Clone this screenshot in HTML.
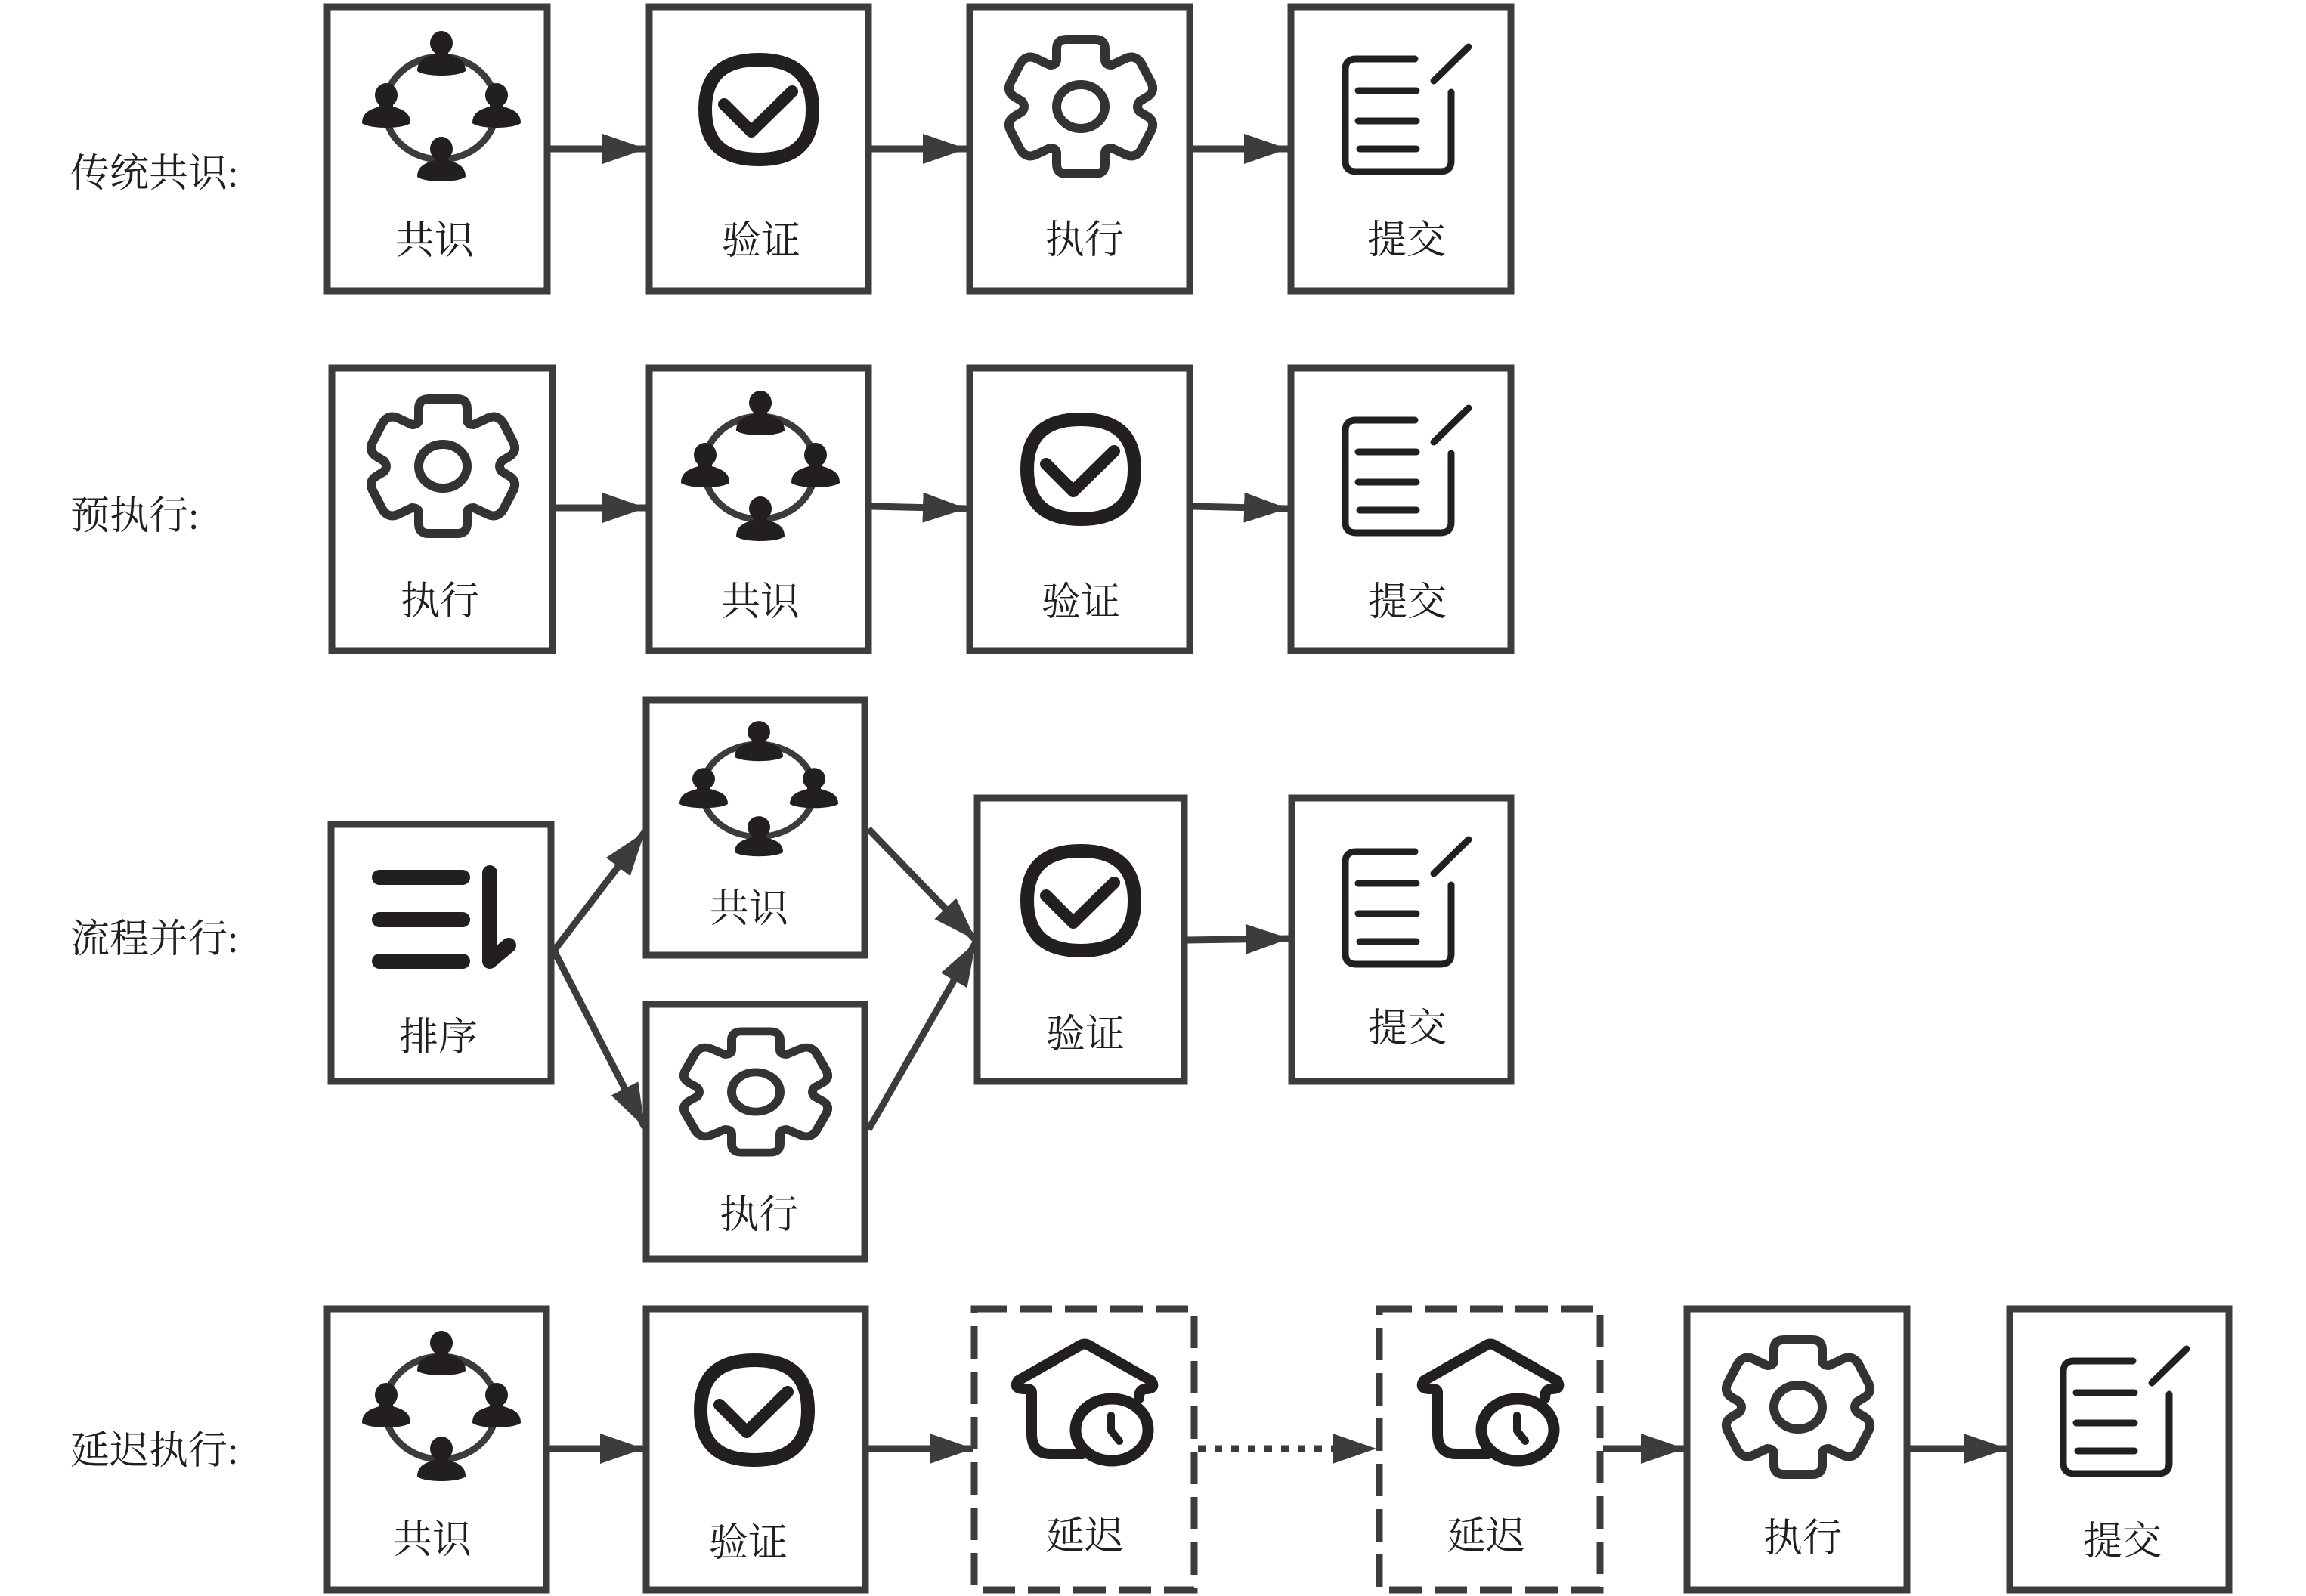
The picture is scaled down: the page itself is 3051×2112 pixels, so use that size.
<!DOCTYPE html>
<html lang="zh">
<head>
<meta charset="utf-8">
<title>共识流程</title>
<style>
html,body{margin:0;padding:0;background:#fff;}
svg{display:block;}
text{font-family:"Liberation Serif","Noto Serif CJK SC",serif;fill:#1f1f1f;}
.b{fill:#fff;stroke:#3c3c3c;stroke-width:9;}
.d{fill:#fff;stroke:#3c3c3c;stroke-width:9;stroke-dasharray:43 17;}
.a{stroke:#3c3c3c;stroke-width:9;fill:none;marker-end:url(#ah);}
.l{font-size:52px;text-anchor:middle;}
.t{font-size:52px;}
</style>
</head>
<body>
<svg xmlns="http://www.w3.org/2000/svg" width="3051" height="2112" viewBox="0 0 3051 2112">
<defs>
<marker id="ah" markerUnits="userSpaceOnUse" markerWidth="60" markerHeight="42" refX="58" refY="20" orient="auto">
  <polygon points="0,0 58,20 0,40" fill="#3c3c3c"/>
</marker>
<g id="person" fill="#231f20">
  <ellipse cx="0" cy="-15" rx="15" ry="16"/>
  <rect x="-9" y="-6" width="18" height="14"/>
  <path d="M-32,22 C-32,8 -22,4 -9,0 L9,0 C22,4 32,8 32,22 C22,30 -22,30 -32,22 Z"/>
</g>
<g id="people">
  <ellipse cx="-1" cy="1" rx="74" ry="68" fill="none" stroke="#3c3c3c" stroke-width="9"/>
  <use href="#person" x="0" y="-70"/>
  <use href="#person" x="0" y="70"/>
  <use href="#person" x="-73" y="-1"/>
  <use href="#person" x="73" y="-1"/>
</g>
<g id="check" fill="none" stroke="#231f20" stroke-linecap="round" stroke-linejoin="round">
  <path stroke-width="18" d="M-71,0 C-71,-46 -46,-66 0,-66 C46,-66 71,-46 71,0 C71,46 46,66 0,66 C-46,66 -71,46 -71,0 Z"/>
  <path stroke-width="16" d="M-46,-7 L-10,29 L44,-24"/>
</g>
<g id="gear" fill="none" stroke="#333" stroke-width="12" stroke-linejoin="round">
  <path d="M-32,-62 V-76 Q-32,-89 -19,-89 H19 Q32,-89 32,-76 V-62 Q32,-55 41,-55 L58,-63 Q72,-70 80,-57 L93,-32 Q99,-20 88,-13 L78,-7 Q72,0 78,7 L88,13 Q99,20 93,32 L80,57 Q72,70 58,63 L41,55 Q32,55 32,62 V76 Q32,89 19,89 H-19 Q-32,89 -32,76 V62 Q-32,55 -41,55 L-58,63 Q-72,70 -80,57 L-93,32 Q-99,20 -88,13 L-78,7 Q-72,0 -78,-7 L-88,-13 Q-99,-20 -93,-32 L-80,-57 Q-72,-70 -58,-63 L-41,-55 Q-32,-55 -32,-62 Z"/>
  <ellipse cx="0" cy="0" rx="32" ry="29"/>
</g>
<g id="doc" fill="none" stroke="#231f20" stroke-width="9" stroke-linecap="round" stroke-linejoin="round">
  <path d="M1872,78 H1794 Q1780,78 1780,92 V213 Q1780,227 1794,227 H1906 Q1920,227 1920,213 V122"/>
  <path d="M1797,120 H1874 M1797,160 H1874 M1799,197 H1874"/>
  <path d="M1897,107 L1943,62"/>
</g>
<g id="house" fill="none" stroke="#231f20" stroke-width="14" stroke-linecap="round" stroke-linejoin="round">
  <path d="M1432,1924 H1390 Q1365,1924 1365,1897 V1843 Q1365,1837 1355,1838 Q1340,1838 1347,1827 L1428,1781 Q1435,1776 1442,1781 L1523,1827 Q1530,1838 1516,1838 Q1507,1838 1507,1850"/>
  <ellipse cx="1471" cy="1892" rx="48" ry="41" stroke-width="15"/>
  <path stroke-width="10" d="M1470,1873 V1893 L1481,1907"/>
</g>
</defs>

<rect width="3051" height="2112" fill="#fff"/>

<!-- Row 1 -->
<rect class="b" x="433" y="9" width="291" height="376"/>
<rect class="b" x="859" y="9" width="290" height="376"/>
<rect class="b" x="1283" y="9" width="291" height="376"/>
<rect class="b" x="1708" y="9" width="291" height="376"/>
<line class="a" x1="728" y1="197" x2="855" y2="197"/>
<line class="a" x1="1153" y1="197" x2="1279" y2="197"/>
<line class="a" x1="1578" y1="197" x2="1704" y2="197"/>
<use href="#people" transform="translate(584,142)"/>
<use href="#check" transform="translate(1004,145)"/>
<use href="#gear" transform="translate(1430,141)"/>
<use href="#doc"/>
<text class="l" x="575" y="336">共识</text>
<text class="l" x="1007" y="336">验证</text>
<text class="l" x="1435" y="335">执行</text>
<text class="l" x="1861" y="335">提交</text>
<text class="t" x="93" y="247">传统共识:</text>

<!-- Row 2 -->
<rect class="b" x="439" y="487" width="292" height="374"/>
<rect class="b" x="859" y="487" width="290" height="374"/>
<rect class="b" x="1283" y="487" width="291" height="374"/>
<rect class="b" x="1708" y="487" width="291" height="374"/>
<line class="a" x1="735" y1="672" x2="855" y2="672"/>
<line class="a" x1="1153" y1="670" x2="1279" y2="673"/>
<line class="a" x1="1578" y1="670" x2="1704" y2="673"/>
<use href="#gear" transform="translate(586,617)"/>
<use href="#people" transform="translate(1006,618)"/>
<use href="#check" transform="translate(1430,621)"/>
<use href="#doc" transform="translate(0,478)"/>
<text class="l" x="582" y="813">执行</text>
<text class="l" x="1006" y="814">共识</text>
<text class="l" x="1430" y="814">验证</text>
<text class="l" x="1862" y="814">提交</text>
<text class="t" x="93" y="700">预执行:</text>

<!-- Row 3 -->
<rect class="b" x="438" y="1091" width="291" height="340"/>
<rect class="b" x="855" y="926" width="289" height="338"/>
<rect class="b" x="855" y="1329" width="289" height="337"/>
<rect class="b" x="1293" y="1056" width="274" height="375"/>
<rect class="b" x="1709" y="1056" width="290" height="375"/>
<line class="a" x1="733" y1="1258" x2="853" y2="1101"/>
<line class="a" x1="733" y1="1258" x2="853" y2="1492"/>
<line class="a" x1="1149" y1="1097" x2="1291" y2="1244"/>
<line class="a" x1="1149" y1="1495" x2="1291" y2="1247"/>
<line class="a" x1="1570" y1="1244" x2="1706" y2="1242"/>
<path d="M502,1161 H612 M502,1217 H612 M502,1272 H612" stroke="#231f20" stroke-width="20" stroke-linecap="round" fill="none"/>
<path d="M648,1155 V1272 L673,1251" stroke="#231f20" stroke-width="20" stroke-linecap="round" stroke-linejoin="round" fill="none"/>
<use href="#people" transform="translate(1004,1045) scale(1,0.9)"/>
<use href="#gear" transform="translate(1000,1445) scale(1,0.9)"/>
<use href="#check" transform="translate(1430,1192)"/>
<use href="#doc" transform="translate(0,1049)"/>
<text class="l" x="580" y="1390">排序</text>
<text class="l" x="991" y="1220">共识</text>
<text class="l" x="1004" y="1625">执行</text>
<text class="l" x="1436" y="1386">验证</text>
<text class="l" x="1862" y="1378">提交</text>
<text class="t" x="93" y="1260">流程并行:</text>

<!-- Row 4 -->
<rect class="b" x="433" y="1732" width="290" height="372"/>
<rect class="b" x="855" y="1732" width="290" height="372"/>
<rect class="d" x="1289" y="1732" width="291" height="372"/>
<rect class="d" x="1825" y="1732" width="292" height="372"/>
<rect class="b" x="2232" y="1732" width="291" height="372"/>
<rect class="b" x="2659" y="1732" width="290" height="372"/>
<line class="a" x1="726" y1="1917" x2="852" y2="1917"/>
<line class="a" x1="1148" y1="1917" x2="1288" y2="1917"/>
<line x1="1585" y1="1917" x2="1770" y2="1917" stroke="#3c3c3c" stroke-width="9" stroke-dasharray="10 12"/>
<polygon points="1763,1897 1821,1917 1763,1937" fill="#3c3c3c"/>
<line class="a" x1="2121" y1="1917" x2="2229" y2="1917"/>
<line class="a" x1="2526" y1="1917" x2="2656" y2="1917"/>
<use href="#people" transform="translate(584,1862)"/>
<use href="#check" transform="translate(998,1866)"/>
<use href="#house"/>
<use href="#house" transform="translate(537,0)"/>
<use href="#gear" transform="translate(2379,1862)"/>
<use href="#doc" transform="translate(950,1723)"/>
<text class="l" x="572" y="2055">共识</text>
<text class="l" x="990" y="2059">验证</text>
<text class="l" x="1435" y="2050">延迟</text>
<text class="l" x="1966" y="2050">延迟</text>
<text class="l" x="2385" y="2053">执行</text>
<text class="l" x="2808" y="2057">提交</text>
<text class="t" x="93" y="1937">延迟执行:</text>
</svg>
</body>
</html>
